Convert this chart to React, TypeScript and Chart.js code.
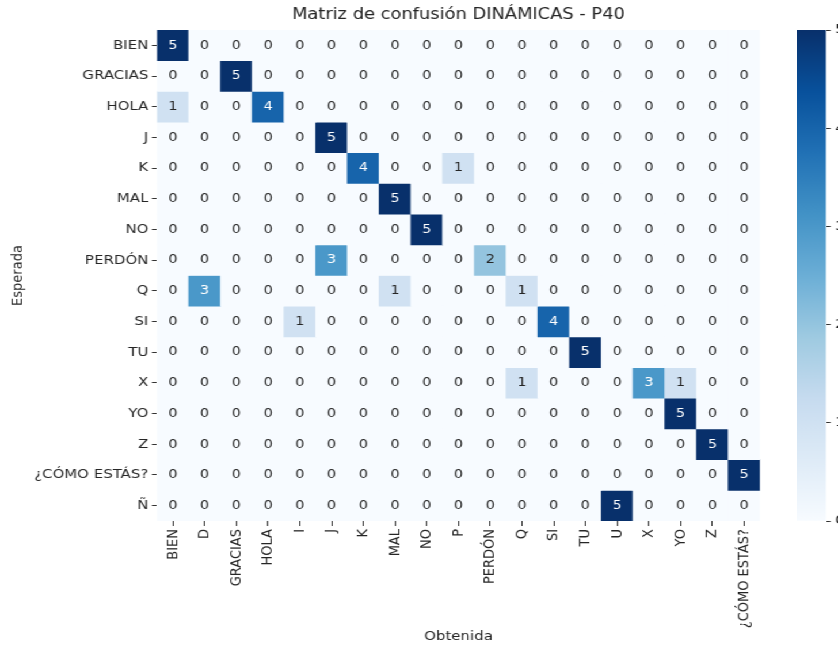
import { useEffect, useRef } from 'react';
import { Chart, registerables } from 'chart.js';
Chart.register(...registerables);

const titleText = 'Matriz de confusión DINÁMICAS - P40';
const xTitle = 'Obtenida';
const yTitle = 'Esperada';
const rowLabels = ['BIEN', 'GRACIAS', 'HOLA', 'J', 'K', 'MAL', 'NO', 'PERDÓN', 'Q', 'SI', 'TU', 'X', 'YO', 'Z', '¿CÓMO ESTÁS?', 'Ñ'];
const colLabels = ['BIEN', 'D', 'GRACIAS', 'HOLA', 'I', 'J', 'K', 'MAL', 'NO', 'P', 'PERDÓN', 'Q', 'SI', 'TU', 'U', 'X', 'YO', 'Z', '¿CÓMO ESTÁS?'];
const confusion: number[][] = [
  [5, 0, 0, 0, 0, 0, 0, 0, 0, 0, 0, 0, 0, 0, 0, 0, 0, 0, 0],
  [0, 0, 5, 0, 0, 0, 0, 0, 0, 0, 0, 0, 0, 0, 0, 0, 0, 0, 0],
  [1, 0, 0, 4, 0, 0, 0, 0, 0, 0, 0, 0, 0, 0, 0, 0, 0, 0, 0],
  [0, 0, 0, 0, 0, 5, 0, 0, 0, 0, 0, 0, 0, 0, 0, 0, 0, 0, 0],
  [0, 0, 0, 0, 0, 0, 4, 0, 0, 1, 0, 0, 0, 0, 0, 0, 0, 0, 0],
  [0, 0, 0, 0, 0, 0, 0, 5, 0, 0, 0, 0, 0, 0, 0, 0, 0, 0, 0],
  [0, 0, 0, 0, 0, 0, 0, 0, 5, 0, 0, 0, 0, 0, 0, 0, 0, 0, 0],
  [0, 0, 0, 0, 0, 3, 0, 0, 0, 0, 2, 0, 0, 0, 0, 0, 0, 0, 0],
  [0, 3, 0, 0, 0, 0, 0, 1, 0, 0, 0, 1, 0, 0, 0, 0, 0, 0, 0],
  [0, 0, 0, 0, 1, 0, 0, 0, 0, 0, 0, 0, 4, 0, 0, 0, 0, 0, 0],
  [0, 0, 0, 0, 0, 0, 0, 0, 0, 0, 0, 0, 0, 5, 0, 0, 0, 0, 0],
  [0, 0, 0, 0, 0, 0, 0, 0, 0, 0, 0, 1, 0, 0, 0, 3, 1, 0, 0],
  [0, 0, 0, 0, 0, 0, 0, 0, 0, 0, 0, 0, 0, 0, 0, 0, 5, 0, 0],
  [0, 0, 0, 0, 0, 0, 0, 0, 0, 0, 0, 0, 0, 0, 0, 0, 0, 5, 0],
  [0, 0, 0, 0, 0, 0, 0, 0, 0, 0, 0, 0, 0, 0, 0, 0, 0, 0, 5],
  [0, 0, 0, 0, 0, 0, 0, 0, 0, 0, 0, 0, 0, 0, 5, 0, 0, 0, 0],
];
const colorbarTicks = [0, 1, 2, 3, 4, 5];
const vmin = 0;
const vmax = 5;

const BLUES = ['#f7fbff', '#deebf7', '#c6dbef', '#9ecae1', '#6baed6', '#4292c6', '#2171b5', '#08519c', '#08306b'];
function hexToRgb(h: string) {
  return [parseInt(h.slice(1, 3), 16), parseInt(h.slice(3, 5), 16), parseInt(h.slice(5, 7), 16)];
}
function bluesAt(t: number) {
  const tt = Math.max(0, Math.min(1, t)) * (BLUES.length - 1);
  const i = Math.min(Math.floor(tt), BLUES.length - 2);
  const f = tt - i;
  const a = hexToRgb(BLUES[i]);
  const b = hexToRgb(BLUES[i + 1]);
  const c = a.map((v, k) => Math.round(v + (b[k] - v) * f));
  return `rgb(${c[0]},${c[1]},${c[2]})`;
}

const FONT = '"DejaVu Sans", sans-serif';
const TEXT = '#262626';

// The figure is laid out on a narrower canvas and stretched horizontally,
// as the reference image is (its horizontal text is wider than it is tall).
const W = 838;
const H = 646;
const CW = 728;
const K = W / CW;
const AREA_LEFT = 157 / K;
const AREA_RIGHT = 760 / K;
const AREA_TOP = 30;
const AREA_BOTTOM = 521;
const CB_LEFT = 692;
const CB_RIGHT = 826 / K;

export default function App() {
  const mainRef = useRef<HTMLCanvasElement>(null);
  const cbRef = useRef<HTMLCanvasElement>(null);

  useEffect(() => {
    const annotate = {
      id: 'annotate',
      afterDatasetsDraw(chart: any) {
        const ctx = chart.ctx;
        ctx.save();
        ctx.font = `12.5px ${FONT}`;
        ctx.textAlign = 'center';
        ctx.textBaseline = 'middle';
        chart.data.datasets.forEach((_: any, r: number) => {
          const meta = chart.getDatasetMeta(r);
          meta.data.forEach((el: any, c: number) => {
            const v = confusion[r][c];
            ctx.fillStyle = (v - vmin) / (vmax - vmin) > 0.5 ? '#ffffff' : TEXT;
            ctx.fillText(String(v), el.x, (el.y + el.base) / 2);
          });
        });
        ctx.restore();
      },
    };
    const titlePlugin = {
      id: 'centerTitle',
      afterDraw(chart: any) {
        const ctx = chart.ctx;
        const a = chart.chartArea;
        ctx.save();
        ctx.font = `15.5px ${FONT}`;
        ctx.fillStyle = TEXT;
        ctx.textAlign = 'center';
        ctx.textBaseline = 'middle';
        ctx.fillText(titleText, (a.left + a.right) / 2, 15);
        ctx.restore();
      },
    };

    const main = new Chart(mainRef.current!, {
      type: 'bar',
      data: {
        labels: colLabels,
        datasets: rowLabels.map((r, i) => ({
          label: r,
          data: colLabels.map(() => [i - 0.5, i + 0.5]),
          backgroundColor: confusion[i].map((v) => bluesAt((v - vmin) / (vmax - vmin))),
          borderWidth: 0,
          grouped: false,
          barPercentage: 1,
          categoryPercentage: 1,
        })) as any,
      },
      options: {
        responsive: false,
        animation: false,
        layout: { padding: { top: AREA_TOP, right: CW - AREA_RIGHT, left: 0, bottom: 0 } },
        plugins: { legend: { display: false }, tooltip: { enabled: false }, title: { display: false } },
        scales: {
          x: {
            type: 'category',
            offset: true,
            grid: { display: true, offset: false, drawOnChartArea: false, drawTicks: true, tickLength: 5, color: '#333' },
            border: { display: false },
            ticks: { autoSkip: false, minRotation: 90, maxRotation: 90, padding: 3, color: TEXT, font: { family: FONT, size: 13 } },
            title: { display: true, text: xTitle, color: TEXT, font: { family: FONT, size: 13 }, padding: { top: 2, bottom: 2 } },
            afterFit: (s: any) => {
              s.height = H - AREA_BOTTOM;
            },
          },
          y: {
            type: 'linear',
            reverse: true,
            min: -0.5,
            max: rowLabels.length - 0.5,
            afterBuildTicks: (s: any) => {
              s.ticks = rowLabels.map((_, i) => ({ value: i }));
            },
            grid: { display: true, drawOnChartArea: false, drawTicks: true, tickLength: 4.5, color: '#333' },
            border: { display: false },
            ticks: {
              autoSkip: false,
              padding: 3,
              color: TEXT,
              font: { family: FONT, size: 13 },
              callback: (v: any) => rowLabels[v as number] ?? '',
            },
            title: { display: true, text: yTitle, color: TEXT, font: { family: FONT, size: 13 }, padding: { top: 8, bottom: 2 } },
            afterFit: (s: any) => {
              s.width = AREA_LEFT;
            },
          },
        },
      } as any,
      plugins: [annotate, titlePlugin],
    });

    const cbW = CW - CB_LEFT;
    const cb = new Chart(cbRef.current!, {
      type: 'bar',
      data: {
        labels: [''],
        datasets: [
          {
            data: [[vmin, vmax]],
            borderWidth: 0,
            barPercentage: 1,
            categoryPercentage: 1,
            backgroundColor: (c: any) => {
              const area = c.chart.chartArea;
              if (!area) return BLUES[4];
              const g = c.chart.ctx.createLinearGradient(0, area.bottom, 0, area.top);
              BLUES.forEach((col, k) => g.addColorStop(k / (BLUES.length - 1), col));
              return g;
            },
          },
        ] as any,
      },
      options: {
        responsive: false,
        animation: false,
        layout: { padding: { top: AREA_TOP, bottom: H - AREA_BOTTOM, left: 0, right: 0 } },
        plugins: { legend: { display: false }, tooltip: { enabled: false } },
        scales: {
          x: { display: false },
          y: {
            position: 'right',
            min: vmin,
            max: vmax,
            afterBuildTicks: (s: any) => {
              s.ticks = colorbarTicks.map((v) => ({ value: v }));
            },
            grid: { display: true, drawOnChartArea: false, drawTicks: true, tickLength: 4, color: '#333' },
            border: { display: false },
            ticks: { padding: 4, color: TEXT, font: { family: FONT, size: 13 } },
            afterFit: (s: any) => {
              s.width = cbW - (CB_RIGHT - CB_LEFT);
            },
          },
        },
      } as any,
    });

    return () => {
      main.destroy();
      cb.destroy();
    };
  }, []);

  return (
    <div style={{ position: 'fixed', left: 0, top: 0, width: W, height: H, background: '#ffffff', overflow: 'hidden' }}>
      <div style={{ position: 'absolute', left: 0, top: 0, width: CW, height: H, transform: `scaleX(${K})`, transformOrigin: '0 0' }}>
        <canvas ref={mainRef} width={CW} height={H} style={{ position: 'absolute', left: 0, top: 0 }} />
        <canvas ref={cbRef} width={CW - CB_LEFT} height={H} style={{ position: 'absolute', left: CB_LEFT, top: 0 }} />
      </div>
    </div>
  );
}
